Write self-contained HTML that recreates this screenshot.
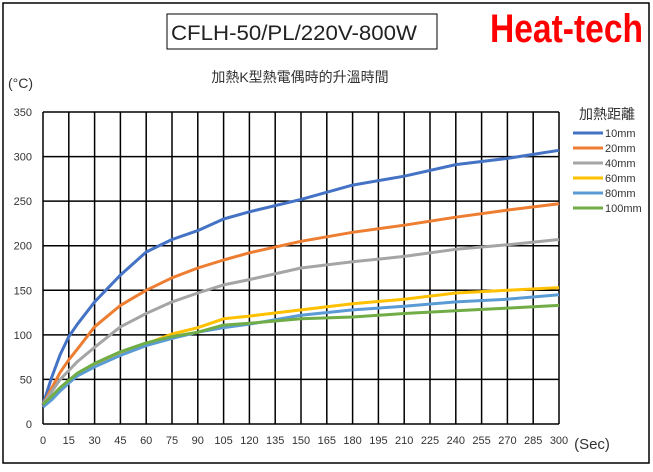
<!DOCTYPE html>
<html><head><meta charset="utf-8"><style>
body{margin:0;background:#fff;}
svg text{font-family:"Liberation Sans","Noto Sans CJK TC",sans-serif;}
</style></head><body>
<svg id="chart" width="653" height="467" viewBox="0 0 653 467" xmlns="http://www.w3.org/2000/svg">
<rect x="3" y="3" width="646" height="460" fill="#fff" stroke="#000" stroke-width="1.5"/>
<rect x="167" y="14" width="270" height="35" fill="#fff" stroke="#000" stroke-width="1"/>
<text x="171" y="40" font-size="21" fill="#222" textLength="246" lengthAdjust="spacingAndGlyphs">CFLH-50/PL/220V-800W</text>
<text x="490" y="42" font-size="40" font-weight="bold" fill="#ff0000" textLength="153" lengthAdjust="spacingAndGlyphs">Heat-tech</text>
<text x="300" y="82" text-anchor="middle" font-size="14" fill="#333">加熱K型熱電偶時的升溫時間</text>
<text x="8" y="88" font-size="14" fill="#333">(°C)</text>
<text x="592" y="449" text-anchor="middle" font-size="15" fill="#333">(Sec)</text>
<g id="grid"></g><g id="series"></g><g id="legend"></g>
</svg>
<script>
const xTicks=[0,15,30,45,60,75,90,105,120,135,150,165,180,195,210,225,240,255,270,285,300];
const yTicks=[0,50,100,150,200,250,300,350];
const times=[0,5,10,15,20,30,45,60,75,90,105,120,150,180,210,240,270,300];
const s10=[22,52,78,98,112,137,167,193,207,217,230,238,252,268,278,291,298,307];
const s20=[22,40,58,72,84,109,133,150,164,175,184,192,205,215,223,232,240,247];
const s40=[22,36,50,60,70,86,109,124,137,147,156,162,175,182,188,196,201,207];
const s60=[22,30,40,48,56,66,79,90,101,108,118,121,128,135,140,147,150,153];
const s80=[19,27,37,46,54,64,77,88,96,103,108,112,122,128,132,137,140,145];
const s100=[22,31,41,49,57,68,81,91,98,103,111,113,118,120,124,127,130,133];
const seriesNames=["10mm","20mm","40mm","60mm","80mm","100mm"];
const seriesColors=["#4472c4","#ed7d31","#a5a5a5","#ffc000","#5b9bd5","#70ad47"];
const allSeries=[s10,s20,s40,s60,s80,s100];
const X0=43,X1=559,Y0=424,Y1=112;
const xs=v=>X0+(v-0)/300*(X1-X0);
const ys=v=>Y0-(v/350)*(Y0-Y1);
const NS="http://www.w3.org/2000/svg";
const grid=document.getElementById('grid');
function mk(tag,attrs,parent){const e=document.createElementNS(NS,tag);for(const k in attrs)e.setAttribute(k,attrs[k]);parent.appendChild(e);return e;}
xTicks.forEach(t=>{
 const l=mk('line',{x1:xs(t),x2:xs(t),y1:Y1,y2:Y0,stroke:'#000','stroke-width':1.5},grid);
 
 
 const tx=mk('text',{x:xs(t),y:444,'text-anchor':'middle','font-size':11,fill:'#333'},grid);
 tx.textContent=t;
 
 
});
yTicks.forEach(t=>{
 const l=mk('line',{x1:X0,x2:X1,y1:ys(t),y2:ys(t),stroke:'#000','stroke-width':1.5},grid);
 
 
 const tx=mk('text',{x:32,y:ys(t)+4,'text-anchor':'end','font-size':11,fill:'#333'},grid);
 tx.textContent=t;
 
 
});
const sg=document.getElementById('series');
allSeries.forEach((s,i)=>{
 const pts=s.map((v,j)=>xs(times[j]).toFixed(1)+','+ys(v).toFixed(1)).join(' ');
 const p=mk('polyline',{points:pts,fill:'none',stroke:seriesColors[i],'stroke-width':3,'stroke-linejoin':'round'},sg);
 
 
});
const lg=document.getElementById('legend');
const lt=mk('text',{x:607,y:119,'text-anchor':'middle','font-size':14,fill:'#333'},lg);
lt.textContent='加熱距離';


seriesNames.forEach((n,i)=>{
 const y=133+i*15;
 const l=mk('line',{x1:573,x2:603,y1:y,y2:y,stroke:seriesColors[i],'stroke-width':3},lg);
 
 
 const t=mk('text',{x:605,y:y+4,'font-size':11,fill:'#333'},lg);
 t.textContent=n;
 
 
});
</script>
</body></html>
